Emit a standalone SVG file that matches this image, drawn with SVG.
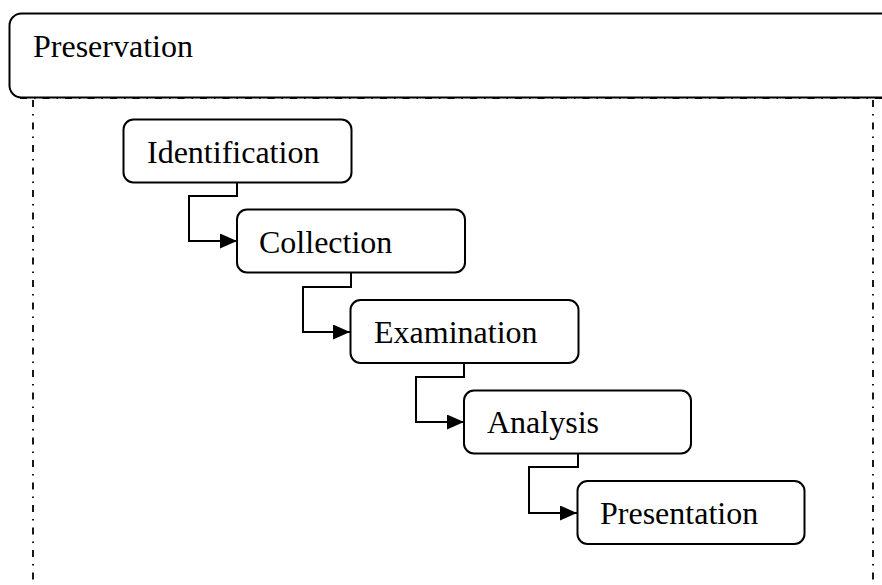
<svg xmlns="http://www.w3.org/2000/svg" width="882" height="585" viewBox="0 0 882 585">
  <style>
    .box { fill: #fff; stroke: #000; stroke-width: 2; }
    .lbl { font-family: "Liberation Serif", "Times New Roman", serif; font-size: 32px; fill: #000; }
    .frame { fill: none; stroke: #000; stroke-width: 1.8; stroke-dasharray: 7 7 1.5 7; }
    .conn { fill: none; stroke: #000; stroke-width: 2; }
  </style>
  <defs>
    <marker id="arrow" markerWidth="17" markerHeight="15" refX="17" refY="7.5" orient="auto" markerUnits="userSpaceOnUse">
      <path d="M0,0 L17,7.5 L0,15 Z" fill="#000"/>
    </marker>
  </defs>
  <rect width="882" height="585" fill="#fff"/>

  <!-- dash-dot frame sides -->
  <g id="frame">
    <line class="frame" x1="33" y1="100" x2="33" y2="585"/>
    <line class="frame" x1="873" y1="100" x2="873" y2="585"/>
    <line class="frame" x1="20" y1="98" x2="882" y2="98"/>
  </g>

  <!-- outer header -->
  <g id="preservation">
    <rect class="box" x="9.5" y="13.5" width="900" height="84" rx="12"/>
    <text class="lbl" x="33" y="57">Preservation</text>
  </g>

  <!-- connectors -->
  <g id="connectors">
    <path class="conn" d="M237,183 V196 H189 V241 H237" marker-end="url(#arrow)"/>
    <path class="conn" d="M351,273 V287 H303 V332 H350" marker-end="url(#arrow)"/>
    <path class="conn" d="M464,364 V377 H416 V422 H464" marker-end="url(#arrow)"/>
    <path class="conn" d="M578,453 V467 H529 V513 H577" marker-end="url(#arrow)"/>
  </g>

  <g id="identification">
    <rect class="box" x="123.5" y="119.5" width="228" height="63" rx="10"/>
    <text class="lbl" x="147" y="163">Identification</text>
  </g>
  <g id="collection">
    <rect class="box" x="237" y="209.5" width="228" height="63" rx="10"/>
    <text class="lbl" x="259" y="253">Collection</text>
  </g>
  <g id="examination">
    <rect class="box" x="350.5" y="300" width="228" height="63" rx="10"/>
    <text class="lbl" x="374" y="343">Examination</text>
  </g>
  <g id="analysis">
    <rect class="box" x="464" y="390.5" width="227" height="63" rx="10"/>
    <text class="lbl" x="487" y="433">Analysis</text>
  </g>
  <g id="presentation">
    <rect class="box" x="577.5" y="481" width="227" height="63" rx="10"/>
    <text class="lbl" x="600" y="524">Presentation</text>
  </g>
</svg>
